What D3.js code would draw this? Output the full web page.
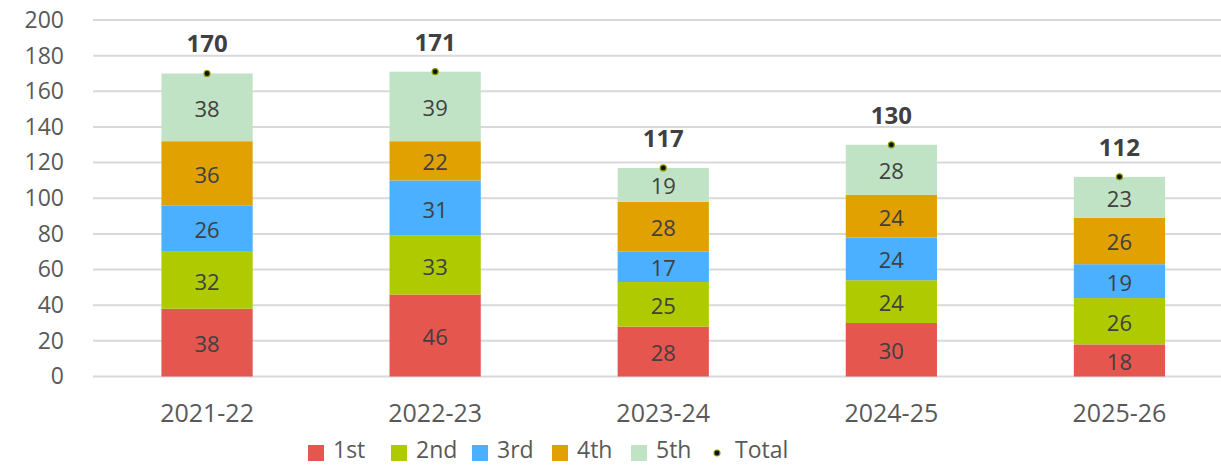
<!DOCTYPE html>
<html>
<head>
<meta charset="utf-8">
<script src="https://cdn.jsdelivr.net/npm/d3@7"></script>
<style>
  body { margin: 0; background: #fff; }
  text { font-family: "Open Sans", "Noto Sans", sans-serif; }
</style>
</head>
<body>
<div id="chart"></div>
<script>
const years = ["2021-22", "2022-23", "2023-24", "2024-25", "2025-26"];
const seriesNames = ["1st", "2nd", "3rd", "4th", "5th"];
const first = [38, 46, 28, 30, 18];
const second = [32, 33, 25, 24, 26];
const third = [26, 31, 17, 24, 19];
const fourth = [36, 22, 28, 24, 26];
const fifth = [38, 39, 19, 28, 23];
const totals = [170, 171, 117, 130, 112];
const yTicks = [0, 20, 40, 60, 80, 100, 120, 140, 160, 180, 200];

const colors = ["#E5564F", "#AFCB00", "#4AB0FF", "#E1A100", "#C0E3C6"];

const width = 1221, height = 467;

const rows = years.map((y, i) => ({
  year: y,
  "1st": first[i], "2nd": second[i], "3rd": third[i], "4th": fourth[i], "5th": fifth[i],
  total: totals[i]
}));

const svg = d3.select("#chart")
  .append("svg")
  .attr("width", width)
  .attr("height", height)
  .style("background-color", "#ffffff");

const x = d3.scaleBand().domain(years).range([93, 1233.5]).paddingInner(0.6).paddingOuter(0.3);
const y = d3.scaleLinear().domain([0, 200]).range([376.5, 20]);

// lineas de cuadricula
svg.append("g")
  .selectAll("line")
  .data(yTicks)
  .enter()
  .append("line")
  .attr("x1", 93)
  .attr("x2", width)
  .attr("y1", d => y(d))
  .attr("y2", d => y(d))
  .attr("stroke", "#d9d9d9")
  .attr("stroke-width", 2);

// eje y
const yAxis = svg.append("g")
  .attr("transform", "translate(64,0)")
  .call(d3.axisLeft(y).tickValues(yTicks).tickSize(0).tickPadding(0));
yAxis.select(".domain").remove();
yAxis.selectAll("text")
  .attr("font-size", "23px")
  .attr("fill", "#595959")
  .attr("font-family", "'Open Sans', 'Noto Sans', sans-serif");

// eje x
const xAxis = svg.append("g")
  .attr("transform", `translate(0,${y(0)})`)
  .call(d3.axisBottom(x).tickSize(0).tickPadding(28));
xAxis.select(".domain").remove();
xAxis.selectAll("text")
  .attr("font-size", "25px")
  .attr("fill", "#595959")
  .attr("font-family", "'Open Sans', 'Noto Sans', sans-serif");

// barras apiladas
const stacked = d3.stack().keys(seriesNames)(rows);

const layers = svg.append("g")
  .selectAll("g")
  .data(stacked)
  .enter()
  .append("g")
  .attr("fill", (d, i) => colors[i]);

layers.selectAll("rect")
  .data(d => d)
  .enter()
  .append("rect")
  .attr("x", d => x(d.data.year))
  .attr("width", x.bandwidth())
  .attr("y", d => y(d[1]))
  .attr("height", d => y(d[0]) - y(d[1]));

layers.selectAll("text")
  .data(d => d)
  .enter()
  .append("text")
  .attr("x", d => x(d.data.year) + x.bandwidth() / 2)
  .attr("y", d => (y(d[0]) + y(d[1])) / 2)
  .attr("dy", "0.43em")
  .attr("text-anchor", "middle")
  .attr("font-size", "22px")
  .attr("fill", "#404040")
  .text(d => d[1] - d[0]);

// totales
svg.append("g")
  .selectAll("circle")
  .data(rows)
  .enter()
  .append("circle")
  .attr("cx", d => x(d.year) + x.bandwidth() / 2)
  .attr("cy", d => y(d.total))
  .attr("r", 3)
  .attr("fill", "#111")
  .attr("stroke", "#8a9a00")
  .attr("stroke-width", 1.2);

svg.append("g")
  .selectAll("text")
  .data(rows)
  .enter()
  .append("text")
  .attr("x", d => x(d.year) + x.bandwidth() / 2)
  .attr("y", d => y(d.total) - 21)
  .attr("text-anchor", "middle")
  .attr("font-size", "24px")
  .attr("font-weight", "bold")
  .attr("fill", "#404040")
  .text(d => d.total);

// leyenda
const legendItems = seriesNames.map((n, i) => ({ name: n, color: colors[i], type: "rect" }))
  .concat([{ name: "Total", type: "dot" }]);
const legendX = [308, 391, 472, 552, 631, 714];
const legendY = 453;

const legend = svg.append("g")
  .selectAll("g")
  .data(legendItems)
  .enter()
  .append("g")
  .attr("transform", (d, i) => `translate(${legendX[i]},${legendY})`);

legend.filter(d => d.type === "rect")
  .append("rect")
  .attr("x", 0)
  .attr("y", -8)
  .attr("width", 16)
  .attr("height", 16)
  .attr("fill", d => d.color);

legend.filter(d => d.type === "dot")
  .append("circle")
  .attr("cx", 3)
  .attr("cy", 0)
  .attr("r", 3)
  .attr("fill", "#111")
  .attr("stroke", "#8a9a00")
  .attr("stroke-width", 1.2);

legend.append("text")
  .attr("x", d => d.type === "dot" ? 21 : 25)
  .attr("y", 0)
  .attr("dy", "0.22em")
  .attr("font-size", "23px")
  .attr("fill", "#595959")
  .text(d => d.name);
</script>
</body>
</html>
